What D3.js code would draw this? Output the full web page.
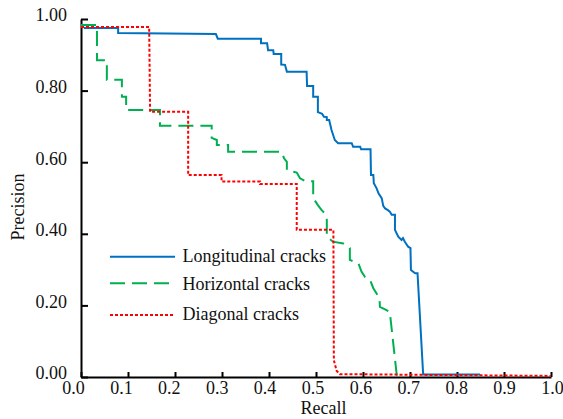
<!DOCTYPE html>
<html>
<head>
<meta charset="utf-8">
<script src="https://cdn.jsdelivr.net/npm/d3@7"></script>
<style>
  html, body { margin: 0; padding: 0; background: #fff; }
  svg { display: block; font-family: "Liberation Serif", "Times New Roman", serif; }
</style>
</head>
<body>
<svg id="chart" width="563" height="419"></svg>
<script>
// ---------------- data ----------------
const xTicks = [0, 0.1, 0.2, 0.3, 0.4, 0.5, 0.6, 0.7, 0.8, 0.9, 1.0];
const yTicks = [0, 0.2, 0.4, 0.6, 0.8, 1.0];
const seriesNames = ["Longitudinal cracks", "Horizontal cracks", "Diagonal cracks"];

const longRecall = [0.006,0.079,0.079,0.287,0.291,0.383,0.383,0.396,0.398,0.409,0.410,0.426,0.426,0.434,0.438,0.480,0.481,0.494,0.494,0.504,0.504,0.513,0.517,0.523,0.523,0.528,0.533,0.540,0.547,0.576,0.579,0.594,0.596,0.616,0.617,0.622,0.623,0.629,0.633,0.640,0.643,0.647,0.653,0.657,0.661,0.668,0.668,0.675,0.682,0.685,0.689,0.696,0.701,0.702,0.711,0.716,0.728,0.849];
const longPrecision = [0.975,0.975,0.961,0.958,0.945,0.945,0.932,0.932,0.913,0.913,0.902,0.902,0.873,0.872,0.853,0.853,0.813,0.813,0.783,0.783,0.740,0.735,0.727,0.726,0.718,0.718,0.690,0.662,0.653,0.653,0.643,0.643,0.636,0.636,0.564,0.564,0.541,0.527,0.513,0.499,0.478,0.471,0.466,0.462,0.453,0.453,0.411,0.392,0.383,0.388,0.378,0.364,0.360,0.299,0.290,0.290,0.007,0.007];

const horRecall = [0.000,0.034,0.034,0.055,0.055,0.087,0.087,0.096,0.096,0.168,0.168,0.278,0.278,0.289,0.289,0.313,0.313,0.427,0.432,0.438,0.438,0.459,0.466,0.477,0.494,0.494,0.504,0.512,0.519,0.523,0.523,0.536,0.558,0.572,0.572,0.590,0.597,0.604,0.615,0.622,0.635,0.636,0.650,0.657,0.672];
const horPrecision = [0.983,0.983,0.885,0.885,0.830,0.830,0.783,0.783,0.746,0.746,0.702,0.702,0.668,0.662,0.648,0.648,0.629,0.629,0.611,0.601,0.578,0.571,0.555,0.547,0.547,0.500,0.480,0.466,0.457,0.439,0.392,0.378,0.373,0.360,0.327,0.318,0.294,0.280,0.271,0.248,0.220,0.196,0.187,0.182,0.003];

const diagRecall = [0.000,0.145,0.147,0.228,0.228,0.299,0.299,0.381,0.381,0.459,0.459,0.537,0.538,0.544,0.551,1.000];
const diagPrecision = [0.978,0.978,0.741,0.741,0.564,0.564,0.546,0.546,0.539,0.539,0.411,0.411,0.047,0.017,0.008,0.003];

// ---------------- layout ----------------
const svg = d3.select("#chart");
const x = d3.scaleLinear().domain([0, 1]).range([81, 551]);
const xLabel = d3.scaleLinear().domain([0, 1]).range([73, 552]);
const y = d3.scaleLinear().domain([0, 1]).range([377, 19]);

const colors = ["#0070C0", "#00B050", "#FF0000"];
const dashes = [null, "15,7", "3,2"];

// axes
const xAxis = d3.axisBottom(x).tickValues(xTicks).tickFormat(d3.format(".1f"))
  .tickSizeInner(-5).tickSizeOuter(0).tickPadding(4);
const gx = svg.append("g").attr("transform", `translate(0,${y(0)})`).call(xAxis);
gx.selectAll("text").attr("x", d => xLabel(d) - x(d));

const yAxis = d3.axisLeft(y).tickValues(yTicks).tickFormat(d3.format(".2f"))
  .tickSizeInner(-7).tickSizeOuter(0).tickPadding(14);
const gy = svg.append("g").attr("transform", `translate(${x(0)},0)`).call(yAxis);
gy.selectAll("text").attr("dy", "0.1em");

[gx, gy].forEach(g => {
  g.select(".domain").attr("stroke", "#000").attr("stroke-width", 2);
  g.selectAll(".tick line").attr("stroke", "#000").attr("stroke-width", 2);
  g.selectAll("text").attr("fill", "#111").style("font-size", "18px")
    .style("font-family", '"Liberation Serif", "Times New Roman", serif');
});

// axis titles
svg.append("text").attr("x", 323.5).attr("y", 414).attr("text-anchor", "middle")
  .style("font-size", "18px").attr("fill", "#111").text("Recall");
svg.append("text").attr("transform", "translate(24,207) rotate(-90)").attr("text-anchor", "middle")
  .style("font-size", "18px").attr("fill", "#111").text("Precision");

// series
const series = [
  [longRecall, longPrecision],
  [horRecall, horPrecision],
  [diagRecall, diagPrecision]
];
const line = d3.line().x(d => x(d[0])).y(d => y(d[1]));
series.forEach(([rs, ps], i) => {
  const pts = rs.map((r, k) => [r, ps[k]]);
  svg.append("path").datum(pts)
    .attr("d", line)
    .attr("fill", "none")
    .attr("stroke", colors[i])
    .attr("stroke-width", 2)
    .attr("stroke-dasharray", dashes[i])
    .attr("stroke-linejoin", "miter");
});

// legend
const legendLineY = [256.7, 283.3, 315];
const legendTextY = [261.7, 290, 320];
seriesNames.forEach((name, i) => {
  svg.append("line").attr("x1", 110).attr("x2", 175)
    .attr("y1", legendLineY[i]).attr("y2", legendLineY[i])
    .attr("stroke", colors[i]).attr("stroke-width", 2)
    .attr("stroke-dasharray", dashes[i]);
  svg.append("text").attr("x", 182.5).attr("y", legendTextY[i])
    .style("font-size", "18px").attr("fill", "#111").text(name);
});
</script>
</body>
</html>
